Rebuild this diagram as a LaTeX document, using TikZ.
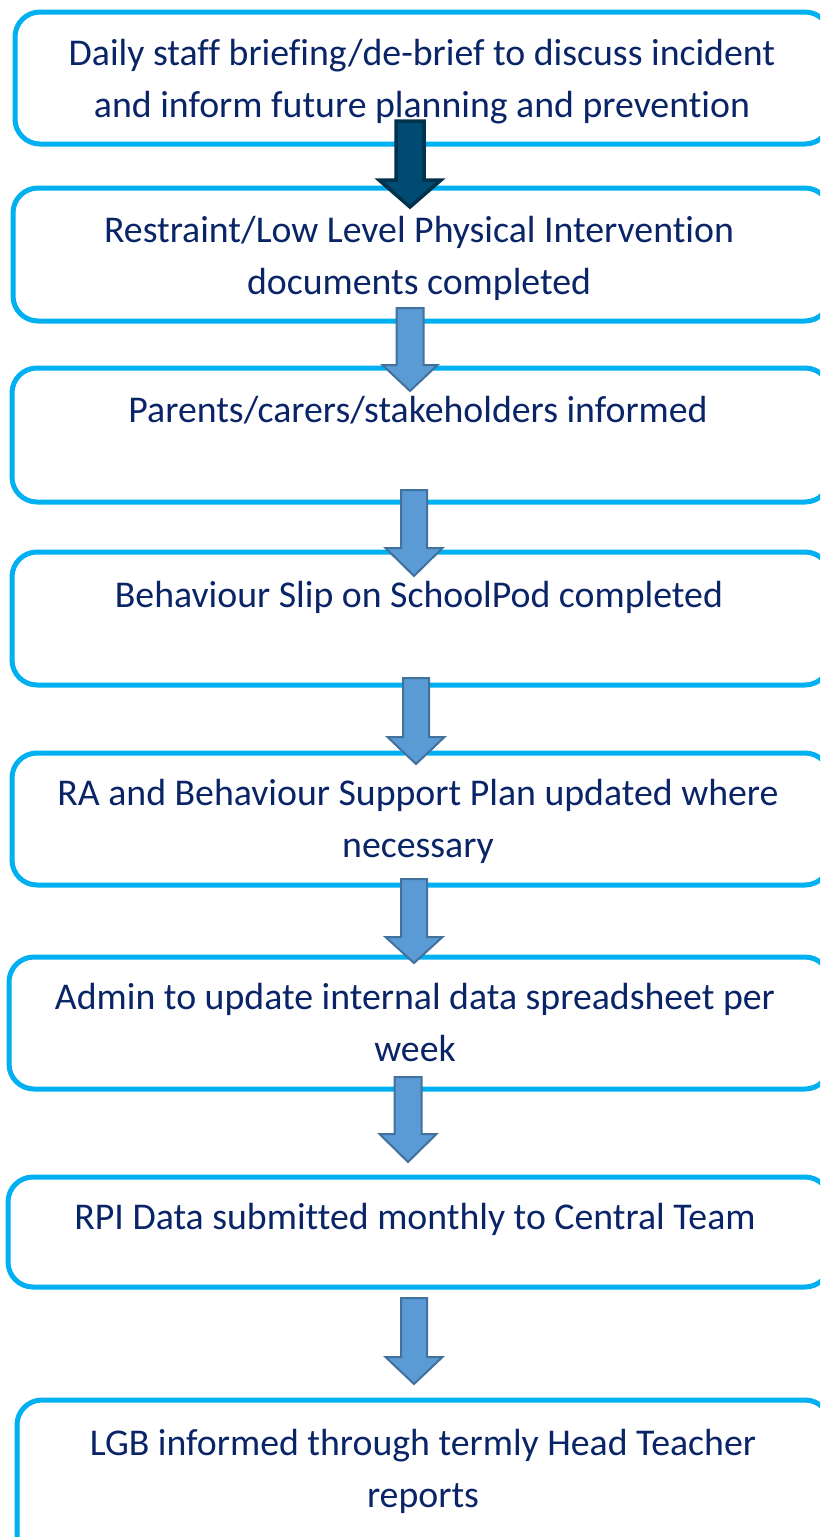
\documentclass[tikz,border=0pt]{standalone}
\usepackage{fontspec}
\setmainfont{Carlito}[Ligatures=NoCommon]
\definecolor{boxline}{HTML}{00B0F0}
\definecolor{txt}{HTML}{0A2468}
\definecolor{arrfill}{HTML}{5B9BD5}
\definecolor{arrline}{HTML}{41719C}
\definecolor{darkfill}{HTML}{004B73}
\definecolor{darkline}{HTML}{00324B}
\tikzset{
  stepbox/.style={draw=boxline, line width=5pt, rounded corners=25pt, fill=white},
  steptext/.style={text=txt, font=\fontsize{37.8}{52}\selectfont, align=center, anchor=base, inner sep=0pt},
  lightarrow/.style={fill=arrfill, draw=arrline, line width=2pt, line join=miter},
  darkarrow/.style={fill=darkfill, draw=darkline, line width=3.5pt, line join=miter},
}
\newcommand{\blkarrow}[7]{% style, cx, shaft top, head base, tip, shaft half, head half
  \draw[#1] (#2-#6,#3) -- (#2+#6,#3) -- (#2+#6,#4) -- (#2+#7,#4) -- (#2,#5) -- (#2-#7,#4) -- (#2-#6,#4) -- cycle;}
\begin{document}
\begin{tikzpicture}[x=1pt,y=-1pt]
\useasboundingbox (0,0) rectangle (820,1537);
\clip (0,0) rectangle (820,1537);
\fill[white] (0,0) rectangle (820,1537);
% boxes
\draw[stepbox] (15,12) rectangle (830,144);
\draw[stepbox] (13,188) rectangle (830,321);
\draw[stepbox] (12,368) rectangle (830,502);
\draw[stepbox] (12,552) rectangle (830,685);
\draw[stepbox] (12,753) rectangle (830,885);
\draw[stepbox] (9,957) rectangle (830,1089);
\draw[stepbox] (8,1177) rectangle (830,1287);
\draw[stepbox] (17,1400) rectangle (830,1560);
% texts (base anchor = last line baseline)
\node[steptext] (t1) at (422,117) {Daily staff briefing/de-brief to discuss incident\\and inform future planning and prevention};
\node[steptext] (t2) at (419,294) {Restraint/Low Level Physical Intervention\\documents completed};
\node[steptext] (t3) at (418,422) {Parents/carers/stakeholders informed};
\node[steptext] (t4) at (419,607) {Behaviour Slip on SchoolPod completed};
\node[steptext] (t5) at (418,857) {RA and Behaviour Support Plan updated where\\necessary};
\node[steptext] (t6) at (415,1061) {Admin to update internal data spreadsheet per\\week};
\node[steptext] (t7) at (415,1229) {RPI Data submitted monthly to Central Team};
\node[steptext] (t8) at (423,1507) {LGB informed through termly Head Teacher\\reports};
% arrows
\blkarrow{darkarrow}{410}{121}{180}{207}{14}{31}
\blkarrow{lightarrow}{410}{308}{365}{391}{13.5}{27.5}
\blkarrow{lightarrow}{414}{490}{548}{576}{13}{28.5}
\blkarrow{lightarrow}{416}{678}{737}{764}{13}{28.5}
\blkarrow{lightarrow}{414}{879}{937}{963}{13}{28.5}
\blkarrow{lightarrow}{408}{1077}{1134}{1162}{13.5}{28.5}
\blkarrow{lightarrow}{414}{1298}{1357}{1384}{13}{28.5}
\end{tikzpicture}
\end{document}
